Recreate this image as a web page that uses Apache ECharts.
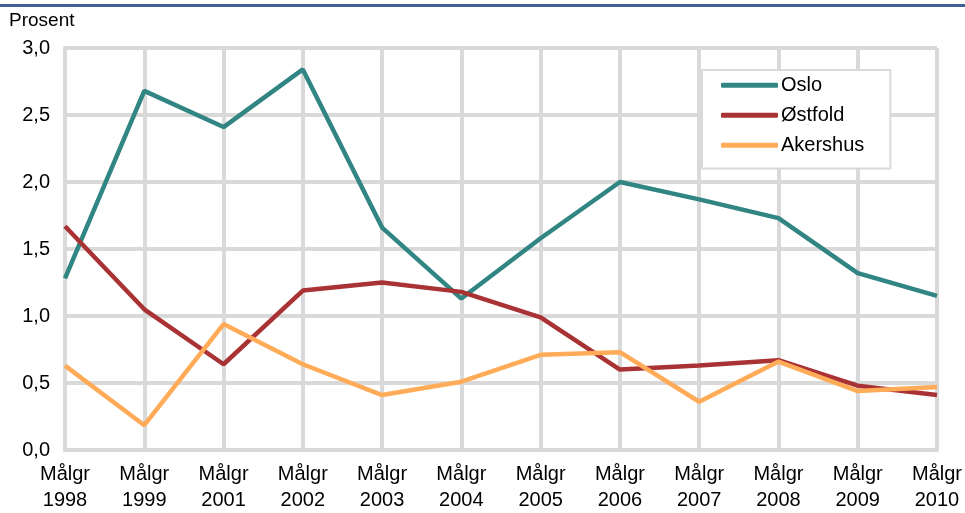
<!DOCTYPE html>
<html>
<head>
<meta charset="utf-8">
<script src="https://cdn.jsdelivr.net/npm/echarts@6/dist/echarts.min.js"></script>
<style>
  html, body { margin: 0; padding: 0; background: #fff; }
  #chart { width: 965px; height: 513px; }
</style>
</head>
<body>
<div id="chart"></div>
<script>
const years = ['1998', '1999', '2001', '2002', '2003', '2004', '2005', '2006', '2007', '2008', '2009', '2010'];
const oslo = [1.28, 2.68, 2.41, 2.84, 1.66, 1.13, 1.58, 2.0, 1.87, 1.73, 1.32, 1.15];
const ostfold = [1.67, 1.05, 0.64, 1.19, 1.25, 1.18, 0.99, 0.6, 0.63, 0.67, 0.48, 0.41];
const akershus = [0.63, 0.185, 0.94, 0.64, 0.41, 0.51, 0.71, 0.73, 0.36, 0.66, 0.44, 0.47];

const gridGrey = '#d9d9d9';
const font = 'Liberation Sans, Arial, sans-serif';

const chart = echarts.init(document.getElementById('chart'));

const makeLine = (name, data, color) => ({
  name,
  type: 'line',
  data,
  symbol: 'none',
  lineStyle: { color, width: 4.5 },
  itemStyle: { color },
  animation: false,
});

chart.setOption({
  textStyle: { fontFamily: font },
  graphic: [
    { type: 'rect', shape: { x: 0, y: 4, width: 965, height: 3 }, style: { fill: '#41609a' } },
    { type: 'text', left: 9, top: 11, style: { text: 'Prosent', font: '19px ' + font, fill: '#000' } },
  ],
  grid: { left: 65, right: 28, top: 48, bottom: 60, containLabel: false },
  legend: {
    orient: 'vertical',
    left: 702,
    top: 70,
    padding: [5, 26, 13, 19],
    itemGap: 9.5,
    itemWidth: 57,
    itemHeight: 5,
    icon: 'roundRect',
    backgroundColor: '#fff',
    borderColor: gridGrey,
    borderWidth: 2,
    textStyle: { fontSize: 20, color: '#000', lineHeight: 20.5, padding: [0, 0, 0, -2] },
    data: ['Oslo', 'Østfold', 'Akershus'],
  },
  xAxis: {
    type: 'category',
    data: years,
    boundaryGap: false,
    axisLine: { lineStyle: { color: gridGrey, width: 4 } },
    axisTick: { show: false },
    splitLine: { show: true, lineStyle: { color: gridGrey, width: 4 } },
    axisLabel: {
      formatter: (v) => 'Målgr\n' + v,
      fontSize: 20,
      lineHeight: 26,
      color: '#000',
      margin: 11,
      interval: 0,
    },
  },
  yAxis: {
    type: 'value',
    min: 0,
    max: 3,
    interval: 0.5,
    axisLine: { show: true, lineStyle: { color: gridGrey, width: 4 } },
    axisTick: { show: false },
    splitLine: { show: true, lineStyle: { color: gridGrey, width: 4 } },
    axisLabel: {
      formatter: (v) => v.toFixed(1).replace('.', ','),
      fontSize: 20,
      color: '#000',
      margin: 15,
    },
  },
  series: [
    makeLine('Oslo', oslo, '#318582'),
    makeLine('Østfold', ostfold, '#a93234'),
    makeLine('Akershus', akershus, '#ffab57'),
  ],
});
</script>
</body>
</html>
